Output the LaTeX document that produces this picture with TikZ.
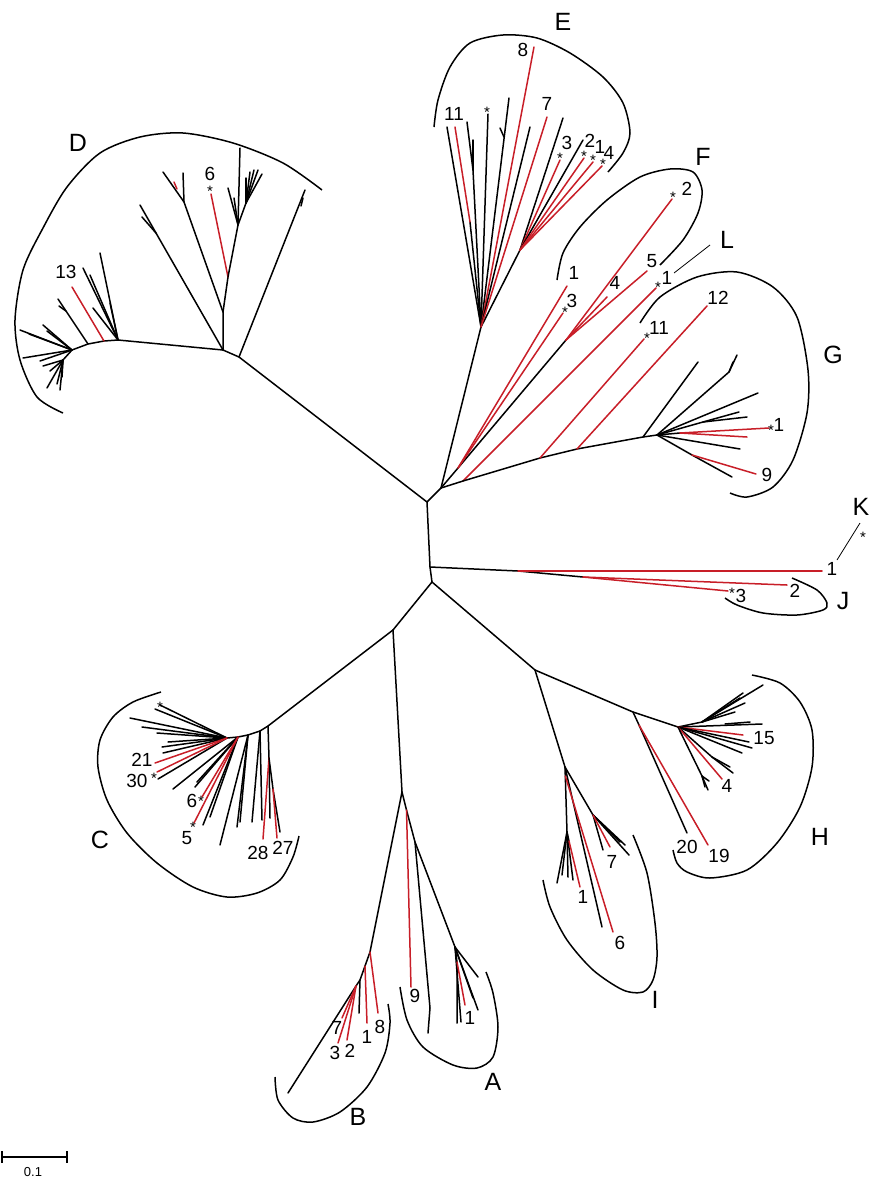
\documentclass[tikz,border=0pt]{standalone}
\usepackage{fontspec}
\newfontfamily\lab{Liberation Sans}
\definecolor{redc}{RGB}{200,30,40}
\begin{document}
\begin{tikzpicture}[x=1pt,y=-1pt,
  br/.style={line width=1.5pt,line cap=round},
  rd/.style={line width=1.5pt,line cap=round,draw=redc},
  thin/.style={line width=0.8pt},
  clade/.style={line width=1.5pt},
  num/.style={font=\lab\fontsize{19}{19}\selectfont,inner sep=0pt},
  grp/.style={font=\lab\fontsize{25}{25}\selectfont,inner sep=0pt},
  ast/.style={font=\lab\fontsize{15}{15}\selectfont,inner sep=0pt}]
\useasboundingbox (0,0) rectangle (870,1179);
% ---------- backbone ----------
\coordinate (N1) at (427,502);
\coordinate (N2) at (441,488);
\coordinate (N3) at (430,567);
\coordinate (N4) at (432,582);
\draw[br] (N2)--(N1)--(N3)--(N4);
% ---------- D ----------
\coordinate (Dk) at (239,357);
\coordinate (Dj) at (223,350);
\draw[br] (N1)--(Dk)--(Dj);
\draw[br] (Dk)--(305,190);
\draw[br] (303,198)--(301,206);
\coordinate (Da) at (223,312);
\coordinate (Db) at (184,202);
\draw[br] (Dj)--(Da)--(Db)--(163,172);
\draw[br] (Db)--(183,173);
\draw[rd] (174,182)--(177,189);
\coordinate (Dc) at (228,277);
\draw[br] (Da)--(Dc);
\draw[rd] (Dc)--(211,194);
\node[ast] (s6) at (210,191) {*};
\node[num] (l6) at (210,174) {6};
\coordinate (Dd) at (238,225);
\coordinate (De) at (246,203);
\draw[br] (Dc)--(Dd)--(240,148);
\draw[br] (Dd)--(228,188);
\draw[br] (Dd)--(234,198);
\draw[br] (Dd)--(De);
\foreach \t in {(250,172),(254,170),(258,170),(262,174),(246,178)} \draw[br] (De)--\t;
\coordinate (Df) at (156,233);
\draw[br] (Dj)--(Df)--(140,205);
\draw[br] (Df)--(142,217);
\coordinate (Dg) at (118,340);
\coordinate (Dm) at (104,341);
\coordinate (Dh) at (88,344);
\coordinate (Di) at (72,350);
\draw[br] (Dj)--(Dg)--(Dm)--(Dh)--(Di);
\foreach \t in {(100,253),(83,268),(90,275),(110,303),(93,308)} \draw[br] (Dg)--\t;
\draw[rd] (Dm)--(72,287);
\node[num] (l13) at (66,272) {13};
\coordinate (Dn) at (66,311);
\draw[br] (Dh)--(Dn)--(58,299);
\draw[br] (Dn)--(59,306);
\foreach \t in {(20,330),(29,334),(43,325),(47,331),(23,358),(40,361)} \draw[br] (Di)--\t;
\coordinate (Do) at (63,360);
\draw[br] (Di)--(Do);
\foreach \t in {(43,366),(50,371),(47,388),(57,384),(60,390),(62,377)} \draw[br] (Do)--\t;
\draw[clade] plot[smooth] coordinates {(63,413) (37,397) (20,360) (15,320) (23,270) (43,228) (67,187) (100,153) (140,137) (183,133) (233,143) (283,163) (322,190)};
\node[grp] (gD) at (78,143) {D};
% ---------- E ----------
\coordinate (Ea) at (481,327);
\coordinate (Es) at (520,250);
\draw[br] (N2)--(Ea)--(Es);
\draw[br] (Ea)--(447,127);
\coordinate (Er) at (470,222);
\draw[br] (Ea)--(Er);
\draw[rd] (Er)--(455,127);
\coordinate (Eb) at (473,170);
\draw[br] (Ea)--(Eb)--(467,122);
\draw[br] (Eb)--(473,140);
\draw[br] (Ea)--(488,114);
\node[ast] (sE) at (487,112) {*};
\draw[br] (Ea)--(509,98);
\draw[br] (504,137)--(500,128);
\draw[rd] (Ea)--(534,47);
\node[num] (l8) at (523,50) {8};
\draw[br] (Ea)--(530,127);
\draw[rd] (Ea)--(547,117);
\node[num] (l7e) at (547,104) {7};
\node[num] (l11e) at (454,114) {11};
\draw[br] (Es)--(563,118);
\draw[rd] (Es)--(560,160);
\node[ast] (s3e) at (560,158) {*};
\node[num] (l3e) at (567,143) {3};
\draw[br] (Es)--(583,140);
\draw[rd] (Es)--(584,158);
\node[ast] (s2e) at (584,156) {*};
\node[num] (l2e) at (590,141) {2};
\draw[rd] (Es)--(593,162);
\node[ast] (s1e) at (593,160) {*};
\node[num] (l1e) at (600,147) {1};
\draw[rd] (Es)--(602,166);
\node[ast] (s4e) at (603,164) {*};
\node[num] (l4e) at (609,153) {4};
\draw[clade] plot[smooth] coordinates {(434,127) (438,100) (450,67) (470,43) (503,35) (537,38) (570,53) (603,77) (623,103) (630,133) (623,153) (608,172)};
\node[grp] (gE) at (563,22) {E};
% ---------- F ----------
\coordinate (Ff) at (458,468);
\coordinate (Fs) at (566,340);
\draw[br] (N2)--(Ff)--(Fs);
\draw[rd] (Ff)--(567,286);
\node[num] (l1f) at (574,273) {1};
\draw[rd] (Ff)--(563,313);
\node[ast] (s3f) at (565,312) {*};
\node[num] (l3f) at (572,301) {3};
\draw[rd] (Fs)--(672,199);
\node[ast] (s2f) at (673,197) {*};
\node[num] (l2f) at (687,189) {2};
\draw[rd] (Fs)--(647,271);
\node[num] (l5f) at (652,261) {5};
\draw[rd] (Fs)--(607,297);
\node[num] (l4f) at (615,283) {4};
\draw[clade] plot[smooth] coordinates {(557,280) (563,253) (580,227) (607,200) (640,177) (670,169) (693,172) (702,190) (698,213) (683,240) (660,265)};
\node[grp] (gF) at (703,157) {F};
% ---------- L ----------
\coordinate (Gl) at (463,481);
\draw[rd] (Gl)--(656,288);
\node[ast] (sL) at (658,287) {*};
\node[num] (l1L) at (667,278) {1};
\coordinate (Lc) at (674,273);
\coordinate (Ld) at (710,245);
\draw[thin] (Lc)--(Ld);
\node[grp] (gL) at (727,240) {L};
% ---------- G ----------
\coordinate (Ga) at (540,458);
\coordinate (Gb) at (577,449);
\coordinate (Gc) at (643,437);
\coordinate (Gd) at (657,435);
\draw[br] (N2)--(Gl)--(Ga)--(Gb)--(Gc)--(Gd);
\draw[rd] (Ga)--(644,339);
\node[ast] (s11) at (647,338) {*};
\node[num] (l11) at (659,328) {11};
\draw[rd] (Gb)--(707,306);
\node[num] (l12) at (718,298) {12};
\draw[br] (Gc)--(698,362);
\coordinate (Ge) at (729,372);
\draw[br] (Gd)--(Ge)--(737,355);
\draw[br] (Ge)--(733,362);
\draw[br] (Gd)--(758,393);
\coordinate (Gf) at (703,422);
\draw[br] (Gd)--(Gf)--(739,412);
\draw[br] (Gf)--(747,417);
\coordinate (Gg) at (680,433);
\draw[br] (Gd)--(Gg);
\draw[rd] (Gg)--(769,428);
\draw[rd] (Gg)--(747,437);
\node[ast] (s1g) at (771,430) {*};
\node[num] (l1g) at (779,425) {1};
\draw[br] (Gd)--(740,449);
\coordinate (Gh) at (692,455);
\draw[br] (Gd)--(Gh)--(732,477);
\draw[rd] (Gh)--(756,474);
\node[num] (l9g) at (767,475) {9};
\draw[clade] plot[smooth] coordinates {(640,323) (660,297) (697,277) (737,272) (773,287) (797,317) (808,370) (807,413) (793,460) (773,487) (747,497) (730,493)};
\node[grp] (gG) at (833,355) {G};
% ---------- J / K ----------
\coordinate (Ja) at (518,571);
\coordinate (Jb) at (583,577);
\draw[br] (N3)--(Ja)--(Jb);
\draw[rd] (Ja)--(822,571);
\node[num] (l1k) at (832,569) {1};
\coordinate (Kc) at (837,560);
\coordinate (Kd) at (860,523);
\draw[thin] (Kc)--(Kd);
\node[ast] (sK) at (863,537) {*};
\node[grp] (gK) at (861,507) {K};
\draw[rd] (Jb)--(787,585);
\node[num] (l2j) at (795,591) {2};
\draw[rd] (Jb)--(728,591);
\node[ast] (s3j) at (732,593) {*};
\node[num] (l3j) at (741,596) {3};
\draw[clade] plot[smooth] coordinates {(792,578) (817,590) (827,603) (823,610) (797,615) (763,613) (737,605) (725,598)};
\node[grp] (gJ) at (843,601) {J};
% ---------- lower backbone ----------
\coordinate (Nc) at (393,630);
\coordinate (Nab) at (402,792);
\coordinate (Nhi) at (535,670);
\draw[br] (N4)--(Nc)--(Nab);
\draw[br] (N4)--(Nhi);
% ---------- C ----------
\coordinate (Cr) at (268,726);
\coordinate (Cb) at (260,731);
\coordinate (Cc) at (248,735);
\coordinate (Cd) at (238,737);
\coordinate (Ce) at (227,738);
\draw[br] (Nc)--(Cr)--(Cb)--(Cc)--(Cd)--(Ce);
\foreach \t in {(160,705),(155,709),(130,718),(142,727),(157,733),(168,742),(162,747),(163,753),(158,779)} \draw[br] (Ce)--\t;
\node[ast] (sCt) at (160,707) {*};
\draw[rd] (Ce)--(155,763);
\draw[rd] (Ce)--(157,772);
\node[ast] (s30) at (154,778) {*};
\node[num] (l21) at (142,760) {21};
\node[num] (l30) at (137,781) {30};
\foreach \t in {(173,789),(195,787),(197,782),(203,825),(210,817)} \draw[br] (Cd)--\t;
\draw[rd] (Cd)--(202,797);
\draw[rd] (Cd)--(194,823);
\node[ast] (s6c) at (201,801) {*};
\node[num] (l6c) at (192,801) {6};
\node[ast] (s5c) at (193,827) {*};
\node[num] (l5c) at (187,838) {5};
\foreach \t in {(220,845),(237,827),(240,822)} \draw[br] (Cc)--\t;
\foreach \t in {(252,822),(262,820)} \draw[br] (Cb)--\t;
\coordinate (Cx) at (269,758);
\coordinate (Cz) at (273,789);
\draw[br] (Cr)--(Cx)--(270,818);
\draw[rd] (Cx)--(263,839);
\draw[br] (Cx)--(Cz)--(280,832);
\draw[rd] (Cz)--(277,838);
\node[num] (l28) at (258,853) {28};
\node[num] (l27) at (283,848) {27};
\draw[clade] plot[smooth] coordinates {(161,692) (133,702) (113,717) (100,740) (98,767) (107,800) (127,833) (157,863) (193,887) (227,897) (257,893) (280,880) (293,857) (299,836)};
\node[grp] (gC) at (100,840) {C};
% ---------- B ----------
\coordinate (Bn) at (370,952);
\coordinate (Bq) at (365,966);
\coordinate (Bm) at (360,980);
\coordinate (Bk) at (356,986);
\draw[br] (Nab)--(Bn)--(Bq)--(Bm)--(Bk)--(288,1093);
\draw[rd] (Bn)--(378,1013);
\draw[rd] (Bq)--(367,1023);
\draw[br] (Bm)--(359,1013);
\draw[rd] (Bk)--(342,1018);
\draw[rd] (Bk)--(338,1043);
\draw[rd] (Bk)--(347,1040);
\node[num] (l7b) at (337,1028) {7};
\node[num] (l3b) at (335,1053) {3};
\node[num] (l2b) at (350,1051) {2};
\node[num] (l1b) at (367,1037) {1};
\node[num] (l8b) at (380,1027) {8};
\draw[clade] plot[smooth] coordinates {(275,1077) (278,1100) (293,1118) (313,1122) (340,1112) (367,1087) (385,1053) (390,1023) (388,1004)};
\node[grp] (gB) at (358,1117) {B};
% ---------- A ----------
\coordinate (Ar) at (406.5,810);
\coordinate (Aa) at (415,842);
\coordinate (Ab) at (430,1008);
\coordinate (Ac) at (455,947);
\coordinate (Ad) at (457,962);
\draw[br] (Nab)--(Ar)--(Aa)--(Ab)--(428,1033);
\draw[rd] (Ar)--(411,987);
\node[num] (l9a) at (415,996) {9};
\draw[br] (Aa)--(Ac)--(Ad)--(457,1023);
\foreach \t in {(461,1022),(478,977),(473,998),(478,1010)} \draw[br] (Ac)--\t;
\draw[rd] (Ad)--(465,1005);
\node[num] (l1a) at (470,1018) {1};
\draw[clade] plot[smooth] coordinates {(400,987) (407,1020) (423,1047) (453,1065) (477,1068) (493,1057) (498,1027) (493,993) (486,972)};
\node[grp] (gA) at (493,1082) {A};
% ---------- H ----------
\coordinate (Ha) at (633,712);
\coordinate (Hb) at (678,727);
\coordinate (Hx) at (639,725);
\draw[br] (Nhi)--(Ha)--(Hb);
\draw[br] (Ha)--(Hx)--(687,833);
\draw[rd] (Hx)--(708,845);
\node[num] (l20) at (687,847) {20};
\node[num] (l19) at (719,856) {19};
\coordinate (Hc) at (702,722);
\draw[br] (Hb)--(Hc);
\foreach \t in {(743,693),(745,703),(735,712),(763,685),(740,698)} \draw[br] (Hc)--\t;
\draw[br] (Hb)--(762,724);
\draw[br] (725,724)--(750,722);
\draw[rd] (Hb)--(743,735);
\node[num] (l15) at (764,738) {15};
\foreach \t in {(749,742),(752,748),(742,753)} \draw[br] (Hb)--\t;
\coordinate (Hd) at (712,757);
\draw[br] (Hb)--(Hd)--(733,773);
\draw[br] (Hd)--(730,767);
\draw[rd] (Hb)--(722,779);
\node[num] (l4h) at (727,786) {4};
\coordinate (He) at (702,776);
\draw[br] (Hb)--(He)--(708,790);
\draw[br] (He)--(705,787);
\draw[br] (He)--(709,781);
\draw[clade] plot[smooth] coordinates {(752,675) (780,683) (800,702) (812,730) (812,767) (800,807) (777,843) (747,870) (710,878) (687,872) (677,863) (673,850)};
\node[grp] (gH) at (820,837) {H};
% ---------- I ----------
\coordinate (Ia) at (565,767);
\coordinate (Ir) at (565.3,776);
\coordinate (Ib) at (567,832);
\coordinate (Iq) at (569,841);
\coordinate (Ic) at (593,815);
\draw[br] (Nhi)--(Ia)--(Ir)--(Ib);
\foreach \t in {(557,883),(562,875),(568,877),(573,880)} \draw[br] (Ib)--\t;
\draw[br] (Ib)--(Iq);
\draw[rd] (Iq)--(580,887);
\node[num] (l1i) at (583,897) {1};
\draw[br] (Ia)--(602,927);
\draw[rd] (Ir)--(613,932);
\node[num] (l6i) at (620,943) {6};
\draw[br] (Ia)--(Ic);
\foreach \t in {(603,850),(620,842),(625,845),(629,855)} \draw[br] (Ic)--\t;
\draw[rd] (Ic)--(610,847);
\node[num] (l7i) at (612,862) {7};
\draw[clade] plot[smooth] coordinates {(543,880) (550,907) (567,940) (593,970) (623,990) (643,992) (653,980) (657,957) (655,923) (647,873) (633,835)};
\node[grp] (gI) at (655,1000) {I};
% ---------- scale bar ----------
\coordinate (S1) at (2,1157);
\coordinate (S2) at (67,1157);
\draw[line width=1.3pt] (S1)--(S2);
\draw[line width=1.3pt] (2,1151)--(2,1163);
\draw[line width=1.3pt] (67,1151)--(67,1163);
\node[font=\lab\fontsize{13}{13}\selectfont,inner sep=0pt] (sb) at (33,1172) {0.1};
\end{tikzpicture}
\end{document}
